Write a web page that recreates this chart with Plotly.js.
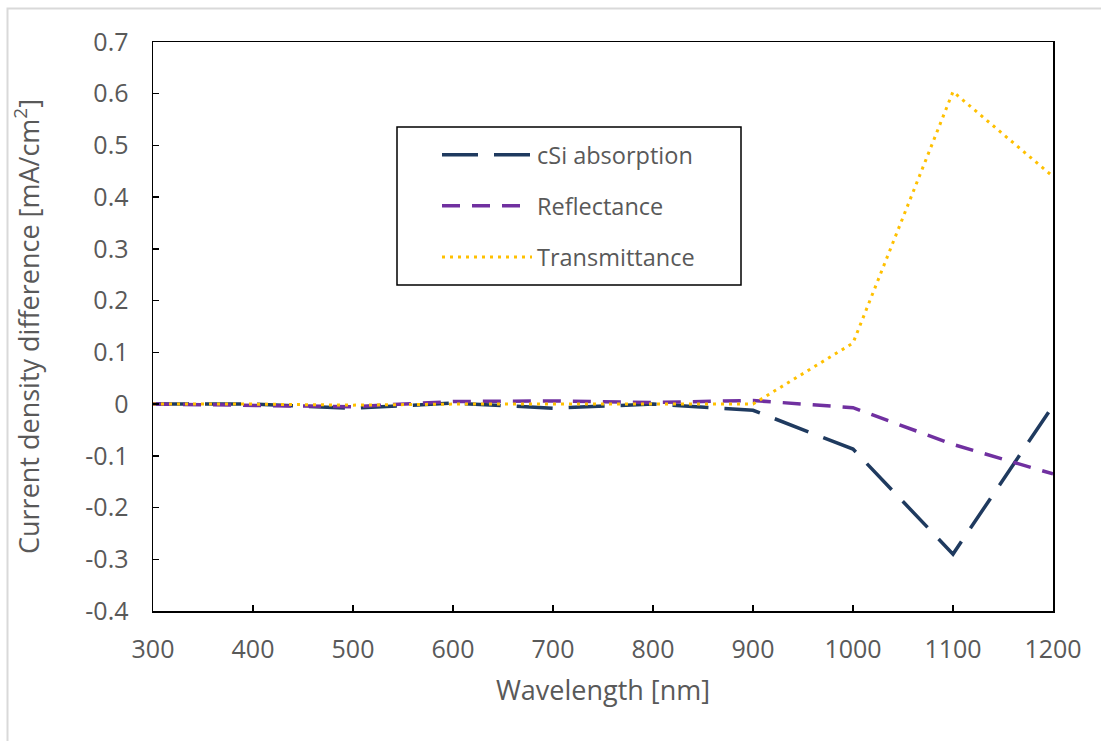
<!DOCTYPE html>
<html>
<head>
<meta charset="utf-8">
<script src="https://cdn.plot.ly/plotly-3.0.1.min.js"></script>
<style>html,body{margin:0;padding:0;background:#fff;}#chart{width:1101px;height:741px;}</style>
</head>
<body>
<div id="chart"></div>
<script>
const wavelength = [300, 400, 500, 600, 700, 800, 900, 1000, 1100, 1200];
const cSiAbsorption = [0, 0, -0.008, 0.002, -0.008, 0, -0.012, -0.087, -0.29, -0.003];
const reflectance = [0, -0.003, -0.005, 0.005, 0.006, 0.003, 0.007, -0.007, -0.078, -0.135];
const transmittance = [0, 0, -0.002, 0, 0, 0, 0, 0.118, 0.604, 0.44];
const seriesNames = ["cSi absorption", "Reflectance", "Transmittance"];
const xTicks = [300, 400, 500, 600, 700, 800, 900, 1000, 1100, 1200];
const yTicks = [-0.4, -0.3, -0.2, -0.1, 0, 0.1, 0.2, 0.3, 0.4, 0.5, 0.6, 0.7];
const yTickText = ["-0.4", "-0.3", "-0.2", "-0.1", "0", "0.1", "0.2", "0.3", "0.4", "0.5", "0.6", "0.7"];

const FONT = "'Open Sans', 'Noto Sans', sans-serif";
const GREY = "#595959";

const traces = [
  {x: wavelength, y: cSiAbsorption, name: seriesNames[0], legendgroup: "a", mode: "lines",
   line: {color: "#1f3a5f", width: 3.5, dash: "36px,16px"}},
  {x: wavelength, y: reflectance, name: seriesNames[1], legendgroup: "b", mode: "lines",
   line: {color: "#7030a0", width: 3.5, dash: "18px,12px"}},
  {x: wavelength, y: transmittance, name: seriesNames[2], legendgroup: "c", mode: "lines",
   line: {color: "#ffc000", width: 3, dash: "3px,5px"}}
];

// plot area: x 153..1053, y 42..611
const px = v => (v - 153) / 900;
const py = v => (611 - v) / 569;

const layout = {
  width: 1101, height: 741,
  margin: {l: 153, r: 48, t: 42, b: 130},
  paper_bgcolor: "#ffffff", plot_bgcolor: "#ffffff",
  font: {family: FONT, size: 24, color: GREY},
  showlegend: true,
  legend: {
    x: px(437), y: py(133), xanchor: "left", yanchor: "top",
    bgcolor: "rgba(0,0,0,0)", borderwidth: 0,
    font: {family: FONT, size: 23.5, color: GREY},
    traceorder: "grouped", tracegroupgap: 17.5, itemwidth: 90
  },
  xaxis: {
    range: [300, 1200], tickvals: xTicks, ticktext: xTicks.map(String),
    showgrid: false, zeroline: false,
    showline: true, linecolor: "#000", linewidth: 1.5, mirror: true,
    ticks: "inside", ticklen: 6, tickcolor: "#000", tickwidth: 1.5,
    tickfont: {family: FONT, size: 25, color: GREY},
    ticklabelstandoff: 15,
    title: {text: "Wavelength [nm]", font: {family: FONT, size: 27, color: GREY}, standoff: 17}
  },
  yaxis: {
    range: [-0.4, 0.7], tickvals: yTicks, ticktext: yTickText,
    showgrid: false, zeroline: false,
    showline: true, linecolor: "#000", linewidth: 1.5, mirror: true,
    ticks: "inside", ticklen: 6, tickcolor: "#000", tickwidth: 1.5,
    tickfont: {family: FONT, size: 25, color: GREY},
    ticklabelstandoff: 18,
    title: {text: "Current density difference [mA/cm<sup>2</sup>]", font: {family: FONT, size: 27, color: GREY}, standoff: 38}
  },
  shapes: [
    {type: "rect", xref: "paper", yref: "paper", x0: px(397), x1: px(741), y0: py(285), y1: py(127),
     line: {color: "#000", width: 1.5}, fillcolor: "rgba(0,0,0,0)", layer: "above"},
    {type: "rect", xref: "paper", yref: "paper", x0: px(7.5), x1: px(1110), y0: py(760), y1: py(8.5),
     line: {color: "#d9d9d9", width: 2}, fillcolor: "rgba(0,0,0,0)"}
  ]
};

Plotly.newPlot("chart", traces, layout, {displayModeBar: false, staticPlot: true});
</script>
</body>
</html>
